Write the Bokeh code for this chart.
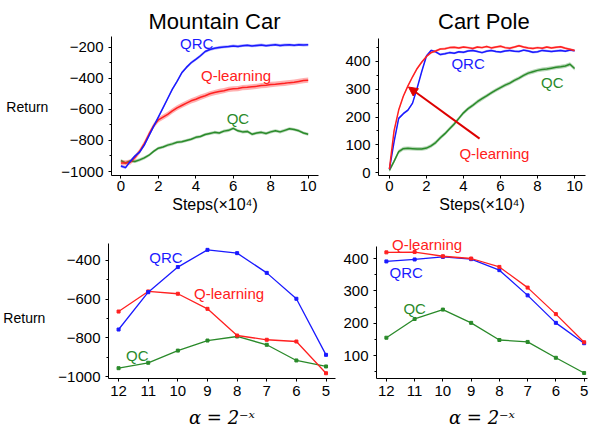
from bokeh.plotting import figure
from bokeh.layouts import column, row
from bokeh.models import Range1d, FixedTicker, Label, Arrow, NormalHead
from bokeh.embed import file_html
from bokeh.resources import INLINE

# ---------------- data ----------------
steps = [i * 0.25 for i in range(41)]  # x 10^4 steps

mc_qrc = [-965, -975, -935, -900, -875, -830, -770, -710, -650, -590, -530, -470,
          -420, -365, -330, -300, -278, -255, -228, -215, -207, -202, -198, -196,
          -192, -195, -190, -188, -192, -189, -186, -190, -187, -184, -189, -186,
          -185, -188, -184, -186, -185]
mc_qlearn = [-945, -945, -940, -910, -870, -820, -760, -705, -668, -650, -632, -610,
             -590, -575, -560, -545, -535, -522, -512, -500, -492, -485, -480, -472,
             -468, -466, -460, -458, -455, -452, -447, -445, -440, -438, -435, -432,
             -428, -425, -420, -415, -412]
mc_qc = [-930, -945, -932, -935, -925, -912, -895, -870, -850, -842, -830, -822,
         -812, -808, -800, -792, -780, -775, -762, -755, -748, -752, -740, -735,
         -722, -738, -745, -742, -760, -752, -748, -755, -745, -738, -745, -735,
         -725, -730, -738, -752, -760]
mc_err = {"qrc": 9, "qlearn": 17, "qc": 10}

cp_qrc = [12, 110, 195, 212, 225, 250, 305, 365, 420, 440, 435, 425, 428, 432, 430,
          435, 433, 438, 440, 436, 432, 437, 440, 436, 434, 438, 440, 437, 436, 441,
          438, 433, 435, 440, 438, 436, 438, 440, 437, 441, 439]
cp_qlearn = [12, 150, 225, 275, 312, 345, 375, 398, 418, 432, 438, 445, 446, 450, 451,
             449, 452, 450, 447, 452, 450, 454, 449, 452, 455, 450, 448, 452, 457, 452,
             449, 447, 450, 448, 452, 449, 451, 453, 448, 444, 440]
cp_qc = [8, 40, 75, 86, 87, 86, 85, 85, 88, 96, 108, 125, 140, 158, 175, 195, 215, 230,
         242, 255, 266, 276, 287, 297, 306, 315, 322, 332, 340, 350, 358, 363, 368, 371,
         373, 376, 379, 381, 384, 390, 375]
cp_err = {"qrc": 4, "qlearn": 4, "qc": 7}

alpha_exp = [12, 11, 10, 9, 8, 7, 6, 5]
mc_sens_qrc = [-757, -564, -434, -345, -362, -464, -598, -888]
mc_sens_qlearn = [-664, -560, -572, -650, -788, -810, -819, -983]
mc_sens_qc = [-957, -929, -866, -814, -793, -836, -917, -948]

cp_sens_qlearn = [419, 420, 407, 400, 374, 310, 228, 141]
cp_sens_qrc = [391, 397, 405, 398, 364, 286, 201, 138]
cp_sens_qc = [155, 213, 242, 201, 148, 142, 93, 46]

mc_yticks = [-1000, -800, -600, -400, -200]
cp_yticks = [0, 100, 200, 300, 400]
mcs_yticks = [-1000, -800, -600, -400]
cps_yticks = [100, 200, 300, 400]
step_ticks = [0, 2, 4, 6, 8, 10]

BLUE = "#1a1aff"
RED = "#ff2020"
GREEN = "#2a8a2a"
FONT = "Liberation Sans"


def minus(v):
    return ("\u2212" + str(abs(v))) if v < 0 else str(v)


def style(p, yticks, yminor, xticks, xlabel, ylabel=None):
    p.outline_line_color = None
    p.xgrid.visible = False
    p.ygrid.visible = False
    p.background_fill_color = "white"
    p.border_fill_color = "white"
    p.yaxis.ticker = FixedTicker(ticks=yticks, minor_ticks=yminor)
    p.yaxis.major_label_overrides = {v: minus(v) for v in yticks}
    p.xaxis.ticker = FixedTicker(ticks=xticks)
    for ax in (p.xaxis[0], p.yaxis[0]):
        ax.axis_line_color = "black"
        ax.axis_line_width = 1
        ax.major_tick_line_color = "black"
        ax.minor_tick_line_color = "black"
        ax.major_tick_out = 3
        ax.major_tick_in = 0
        ax.minor_tick_out = 2
        ax.minor_tick_in = 0
        ax.major_label_text_font = FONT
        ax.major_label_text_font_size = "15px"
        ax.major_label_text_color = "black"
    p.yaxis.major_label_standoff = 5
    p.xaxis.major_label_standoff = 2
    p.xaxis.axis_label = xlabel
    p.xaxis.axis_label_text_font = FONT
    p.xaxis.axis_label_text_font_style = "normal"
    p.xaxis.axis_label_text_font_size = "16px"
    p.xaxis.axis_label_text_color = "black"
    p.xaxis.axis_label_standoff = 2
    if ylabel:
        # two leading blank lines push the visible word down to the middle of the spine
        p.yaxis.axis_label = "\n\n" + ylabel
        p.yaxis.axis_label_orientation = "horizontal"
        p.yaxis.axis_label_text_font = FONT
        p.yaxis.axis_label_text_font_style = "normal"
        p.yaxis.axis_label_text_font_size = "14px"
        p.yaxis.axis_label_text_color = "black"
        p.yaxis.axis_label_standoff = 10


def add_label(p, x, y, text, color, size="15px", baseline="middle"):
    p.add_layout(Label(x=x, y=y, text=text, text_color=color, text_font=FONT,
                       text_font_size=size, text_align="center",
                       text_baseline=baseline))


def band(p, xs, ys, err, color):
    p.varea(x=xs, y1=[v - err for v in ys], y2=[v + err for v in ys],
            fill_color=color, fill_alpha=0.35)
    p.line(xs, ys, line_color=color, line_width=1.5)


def alpha_label(p):
    p.xaxis.axis_label_text_font = "DejaVu Serif"
    p.xaxis.axis_label_text_font_style = "italic"
    p.xaxis.axis_label_text_font_size = "18px"
    p.xaxis.major_label_standoff = 4
    p.xaxis.axis_label_standoff = 8


# ---------------- Mountain Car (learning curves) ----------------
p1 = figure(width=340, height=218,
            x_range=Range1d(-0.5, 10.55), y_range=Range1d(-1025.6, 100.5),
            output_backend="svg", toolbar_location=None,
            min_border_left=111, min_border_right=22, min_border_top=0,
            min_border_bottom=43)
style(p1, mc_yticks, [-900, -700, -500, -300], step_ticks, "Steps(\u00d710\u2074)", "Return")
p1.yaxis.bounds = (-1025, -131)
band(p1, steps, mc_qc, mc_err["qc"], GREEN)
band(p1, steps, mc_qlearn, mc_err["qlearn"], RED)
band(p1, steps, mc_qrc, mc_err["qrc"], BLUE)
add_label(p1, 5.0, -33, "Mountain Car", "black", size="22px", baseline="alphabetic")
add_label(p1, 4.05, -178, "QRC", BLUE)
add_label(p1, 6.15, -382, "Q-learning", RED)
add_label(p1, 6.25, -661, "QC", GREEN)

# ---------------- Cart Pole (learning curves) ----------------
p2 = figure(width=255, height=218,
            x_range=Range1d(-0.59, 10.59), y_range=Range1d(-10.8, 619.8),
            output_backend="svg", toolbar_location=None,
            min_border_left=38, min_border_right=10, min_border_top=0,
            min_border_bottom=43)
style(p2, cp_yticks, [50, 150, 250, 350, 450], step_ticks, "Steps(\u00d710\u2074)")
p2.yaxis.bounds = (-10.8, 483)
band(p2, steps, cp_qc, cp_err["qc"], GREEN)
band(p2, steps, cp_qrc, cp_err["qrc"], BLUE)
band(p2, steps, cp_qlearn, cp_err["qlearn"], RED)
p2.add_layout(Arrow(end=NormalHead(size=9, fill_color="#dd0000", line_color="#dd0000"),
                    x_start=4.87, y_start=122, x_end=1.03, y_end=308,
                    line_color="#dd0000", line_width=2))
add_label(p2, 5.1, 545, "Cart Pole", "black", size="22px", baseline="alphabetic")
add_label(p2, 4.25, 392, "QRC", BLUE)
add_label(p2, 8.8, 326, "QC", GREEN)
add_label(p2, 5.67, 68, "Q-learning", RED)

# ---------------- Mountain Car (step-size sensitivity) ----------------
p3 = figure(width=340, height=213,
            x_range=Range1d(12.34, 4.68), y_range=Range1d(-1010.3, -182.8),
            output_backend="svg", toolbar_location=None,
            min_border_left=108, min_border_right=5, min_border_top=0,
            min_border_bottom=53)
style(p3, mcs_yticks, [-900, -700, -500], alpha_exp, "\u03b1 = 2\u207b\u02e3", "Return")
p3.yaxis.bounds = (-1010, -312)
alpha_label(p3)
for ys, c in ((mc_sens_qc, GREEN), (mc_sens_qlearn, RED), (mc_sens_qrc, BLUE)):
    p3.line(alpha_exp, ys, line_color=c, line_width=1.3)
    p3.scatter(alpha_exp, ys, marker="square", size=3, color=c)
add_label(p3, 10.4, -383, "QRC", BLUE)
add_label(p3, 8.27, -572, "Q-learning", RED)
add_label(p3, 11.37, -891, "QC", GREEN)

# ---------------- Cart Pole (step-size sensitivity) ----------------
p4 = figure(width=255, height=213,
            x_range=Range1d(12.35, 4.88), y_range=Range1d(28.9, 523.7),
            output_backend="svg", toolbar_location=None,
            min_border_left=35, min_border_right=8, min_border_top=0,
            min_border_bottom=53)
style(p4, cps_yticks, [50, 150, 250, 350], alpha_exp, "\u03b1 = 2\u207b\u02e3")
p4.yaxis.bounds = (29, 438)
alpha_label(p4)
for ys, c in ((cp_sens_qc, GREEN), (cp_sens_qrc, BLUE), (cp_sens_qlearn, RED)):
    p4.line(alpha_exp, ys, line_color=c, line_width=1.3)
    p4.scatter(alpha_exp, ys, marker="square", size=3, color=c)
add_label(p4, 10.56, 444, "Q-learning", RED)
add_label(p4, 11.3, 356, "QRC", BLUE)
add_label(p4, 11.0, 245, "QC", GREEN)

layout = column(row(p1, p2), row(p3, p4))
open("out.html", "w").write(file_html(layout, INLINE))
